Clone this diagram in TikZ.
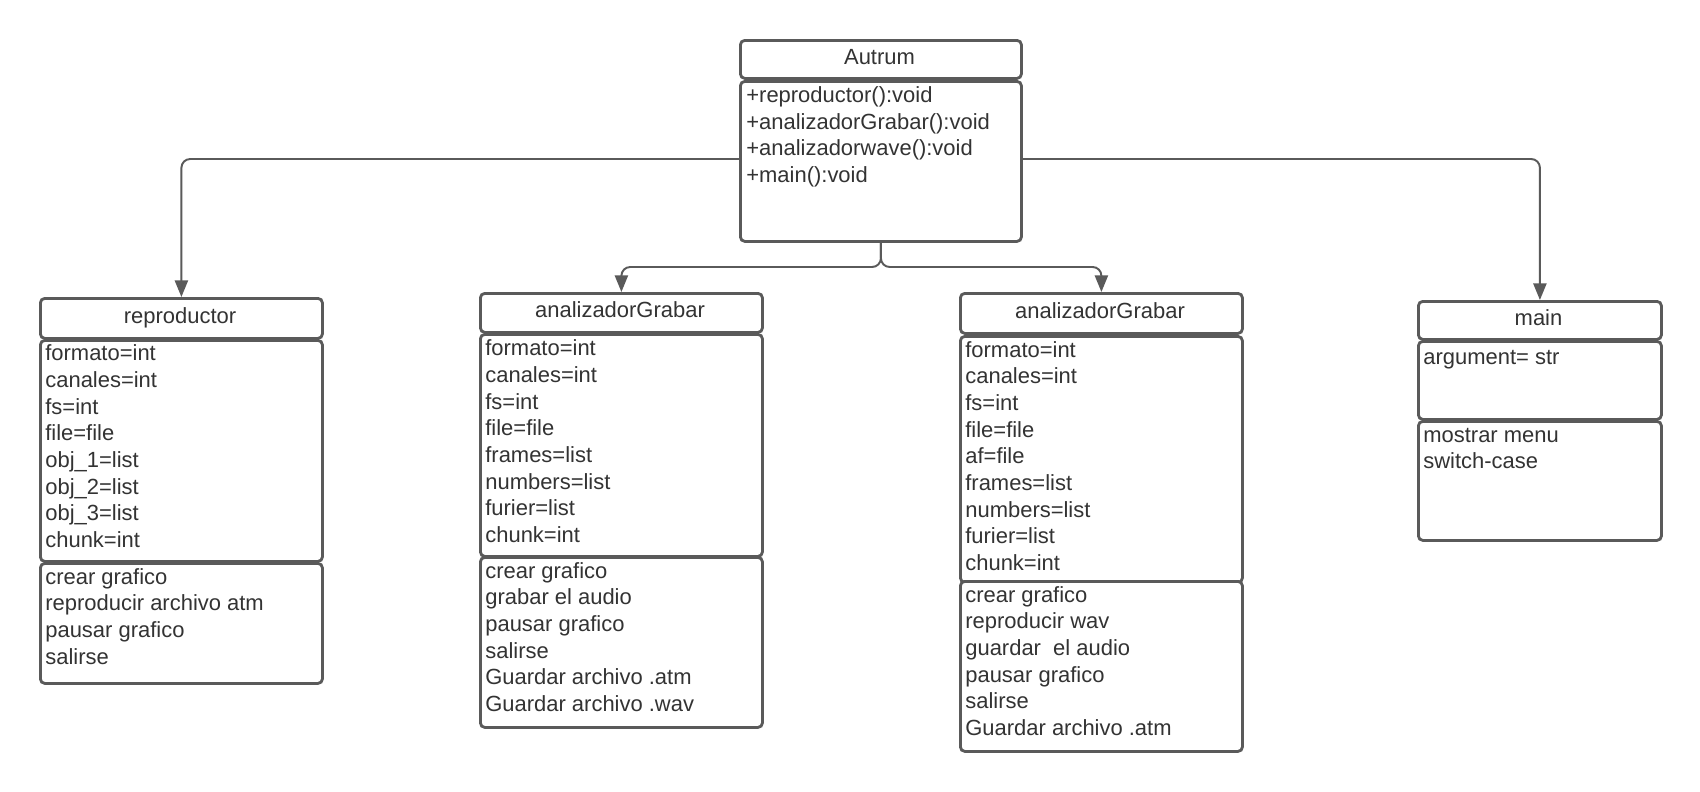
\documentclass[tikz,border=0pt]{standalone}
\usepackage{fontspec}
\setmainfont{Liberation Sans}
\usetikzlibrary{arrows.meta}
\definecolor{edge}{HTML}{5A5A5A}
\definecolor{ink}{HTML}{333333}
\tikzset{
 umlbox/.style={draw=edge, line width=1.6pt, rounded corners=2.5pt, fill=white, inner sep=0pt},
 txt/.style={text=ink, font=\fontsize{12.5}{15.2}\selectfont, inner sep=0pt},
 link/.style={draw=edge, line width=1.1pt, rounded corners=5pt, -{Triangle[length=9.5pt,width=7.5pt]}},
}
\newcommand\ubox[5]{\node[umlbox, anchor=north west, minimum width={(#4-#2)*0.02cm}, minimum height={(#5-#3)*0.02cm}] (#1) at (#2,#3) {};}
\newcommand\ulines[4]{\foreach \t [count=\i] in {#4}{\node[txt, anchor=base west] (#3\i) at ({#1},{#2+(\i-1)*26.67}) {\t};}}
\begin{document}
\begin{tikzpicture}[x=0.02cm, y=-0.02cm]
\useasboundingbox[fill=white] (0,0) rectangle (1700,791);
% Autrum
\ubox{aH}{739}{39}{1020}{77}
\ubox{aB}{739}{80}{1020}{240}
\node[txt, anchor=base] (aT) at (879.5,64) {Autrum};
\ulines{746}{102.5}{aL}{+reproductor():void, +analizadorGrabar():void, +analizadorwave():void, +main():void}
% reproductor
\ubox{rH}{39}{297}{321}{337}
\ubox{rA}{39}{339}{321}{560}
\ubox{rM}{39}{562}{321}{682}
\node[txt, anchor=base] (rT) at (180,323) {reproductor};
\ulines{45}{360.7}{rAL}{formato=int, canales=int, fs=int, file=file, obj\_1=list, obj\_2=list, obj\_3=list, chunk=int}
\ulines{45}{584}{rML}{crear grafico, reproducir archivo atm, pausar grafico, salirse}
% analizadorGrabar 1
\ubox{gH}{479}{292}{761}{331}
\ubox{gA}{479}{333}{761}{555}
\ubox{gM}{479}{556}{761}{726}
\node[txt, anchor=base] (gT) at (620,317.5) {analizadorGrabar};
\ulines{485}{355.7}{gAL}{formato=int, canales=int, fs=int, file=file, frames=list, numbers=list, furier=list, chunk=int}
\ulines{485}{578.3}{gML}{crear grafico, grabar el audio, pausar grafico, salirse, Guardar archivo .atm, Guardar archivo .wav}
% analizadorGrabar 2
\ubox{wH}{959}{292}{1241}{332}
\ubox{wA}{959}{335}{1241}{581}
\ubox{wM}{959}{580}{1241}{750}
\node[txt, anchor=base] (wT) at (1100,318) {analizadorGrabar};
\ulines{965}{357.3}{wAL}{formato=int, canales=int, fs=int, file=file, af=file, frames=list, numbers=list, furier=list, chunk=int}
\ulines{965}{602.3}{wML}{crear grafico, reproducir wav, guardar\ \ el audio, pausar grafico, salirse, Guardar archivo .atm}
% main
\ubox{mH}{1417}{300}{1660}{338}
\ubox{mA}{1417}{340}{1660}{418}
\ubox{mM}{1417}{420}{1660}{539}
\node[txt, anchor=base] (mT) at (1538.5,325) {main};
\ulines{1423}{364}{mAL}{argument= str}
\ulines{1423}{442}{mML}{mostrar menu, switch-case}
% connectors
\coordinate (yL) at (0,159);
\coordinate (fk) at (0,267);
\draw[link] (aB.west |- yL) -| (rH.north);
\draw[link] (aB.east |- yL) -| (mH.north);
\draw[link] (aB.south) -- (aB.south |- fk) -| (gH.north);
\draw[link] (aB.south) -- (aB.south |- fk) -| (wH.north);
\end{tikzpicture}
\end{document}
